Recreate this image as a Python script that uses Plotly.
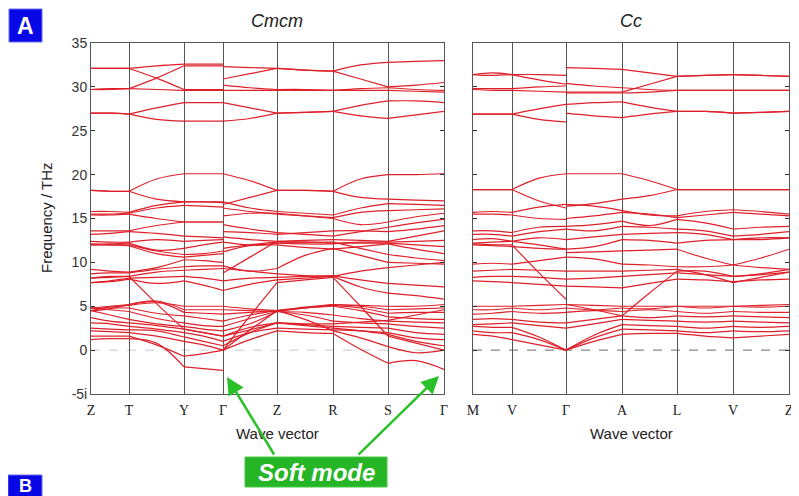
import plotly.graph_objects as go

# ---------------- data ----------------
cmcm_labels = ["Z", "T", "Y", "Γ", "Z", "R", "S", "Γ"]
cmcm_seglen = [38, 55, 39, 54, 56, 55, 56]
cc_labels = ["M", "V", "Γ", "A", "L", "V", "Z"]
cc_seglen = [39, 54, 56, 55, 56, 56]
ytick_vals = [-5, 0, 5, 10, 15, 20, 25, 30, 35]
ytick_text = ["-5i", "0", "5", "10", "15", "20", "25", "30", "35"]

# Cmcm bands (THz, negative = imaginary):
# [Z, mid, T, mid, Y, mid, Γ(end) | Γ(start), mid, Z, mid, R, mid, S, mid, Γ]
cmcm_bands = [
    [32.1, 32.1, 32.1, 32.4, 32.6, 32.6, 32.6, 32.3, 32.2, 32.1, 31.9, 31.8, 32.5, 32.8, 32.9, 33.0],
    [32.1, 32.1, 32.1, 31.0, 29.7, 29.7, 29.7, 30.9, 31.5, 32.1, 31.9, 31.8, 30.9, 30.0, 30.2, 30.5],
    [29.7, 29.8, 29.8, 31.0, 32.4, 32.4, 32.4, 30.2, 29.9, 29.7, 29.7, 29.6, 29.8, 29.9, 29.7, 29.6],
    [29.7, 29.7, 29.8, 29.7, 29.6, 29.6, 29.6, 29.6, 29.6, 29.6, 29.6, 29.6, 29.6, 29.6, 29.5, 29.4],
    [27.0, 27.0, 26.9, 27.6, 28.2, 28.2, 28.2, 28.2, 27.6, 27.0, 27.1, 27.2, 27.9, 28.4, 28.4, 28.2],
    [27.0, 27.0, 26.9, 26.3, 26.1, 26.1, 26.1, 26.1, 26.4, 27.0, 27.1, 27.2, 26.7, 26.4, 26.8, 27.2],
    [18.2, 18.1, 18.1, 19.5, 20.1, 20.1, 20.1, 20.1, 19.3, 18.2, 18.2, 18.1, 19.5, 20.0, 20.0, 20.1],
    [18.2, 18.1, 18.1, 17.2, 16.9, 16.9, 16.9, 16.6, 17.4, 18.2, 18.2, 18.1, 17.4, 17.2, 17.1, 17.0],
    [15.8, 15.8, 15.7, 16.5, 16.9, 16.9, 16.8, 16.9, 16.2, 15.8, 15.6, 15.4, 16.2, 16.7, 16.6, 16.5],
    [15.5, 15.5, 15.6, 16.2, 16.5, 16.4, 16.3, 16.2, 15.8, 15.5, 15.3, 15.1, 15.7, 15.9, 16.0, 16.1],
    [15.4, 15.4, 15.5, 15.0, 14.6, 14.6, 14.6, 15.3, 15.6, 15.6, 15.3, 15.0, 14.3, 14.6, 15.2, 15.6],
    [13.6, 13.6, 13.6, 14.2, 14.6, 14.6, 14.6, 14.3, 13.8, 13.4, 13.2, 13.0, 13.5, 14.0, 14.5, 14.9],
    [13.2, 13.3, 13.5, 13.3, 13.0, 12.9, 12.8, 13.5, 13.4, 13.2, 13.4, 13.6, 13.6, 13.5, 13.8, 14.2],
    [12.4, 12.3, 12.3, 12.6, 12.4, 12.5, 12.6, 12.9, 12.6, 12.4, 12.5, 12.6, 12.5, 12.4, 13.0, 13.6],
    [12.1, 12.1, 12.2, 11.4, 11.6, 12.0, 12.3, 12.3, 12.0, 12.2, 12.1, 12.1, 12.3, 12.3, 12.4, 12.5],
    [12.0, 12.0, 12.0, 11.3, 10.9, 11.0, 11.3, 11.6, 12.0, 12.3, 12.3, 12.2, 12.2, 12.2, 12.0, 11.8],
    [12.0, 12.0, 11.9, 11.0, 10.6, 10.8, 11.0, 11.2, 11.9, 12.0, 11.7, 11.5, 11.8, 12.1, 11.5, 11.0],
    [9.2, 9.0, 8.9, 9.4, 10.3, 10.2, 10.0, 8.8, 10.6, 12.4, 12.3, 12.3, 11.6, 10.9, 10.5, 10.2],
    [8.7, 8.8, 8.8, 9.2, 9.5, 9.6, 9.6, 9.6, 9.0, 9.3, 10.8, 11.6, 10.8, 10.0, 9.9, 9.8],
    [8.2, 8.4, 8.4, 8.9, 9.1, 9.2, 9.3, 9.3, 9.0, 8.7, 8.5, 8.4, 9.0, 9.4, 9.7, 10.0],
    [7.7, 7.9, 8.2, 8.3, 8.4, 8.2, 7.9, 7.9, 8.2, 8.3, 8.4, 8.5, 8.0, 7.6, 7.4, 7.2],
    [7.7, 7.8, 8.1, 7.6, 7.9, 7.4, 6.8, 6.8, 7.5, 8.0, 8.2, 8.4, 7.2, 6.5, 6.2, 5.8],
    [1.2, 1.3, 1.3, 0.8, -1.9, -2.1, -2.3, 0.0, 1.2, 2.2, 2.0, 1.9, 0.1, -1.5, -1.2, -2.2],
    [1.6, 1.6, 1.6, 0.6, -0.7, -0.4, 0.0, 0.0, 3.9, 7.7, 8.0, 8.3, 5.0, 1.6, 0.8, 0.0],
    [2.2, 2.1, 2.0, 1.6, 1.0, 0.6, 0.0, 0.0, 2.3, 4.5, 3.5, 2.2, 1.4, 0.4, -0.3, 0.0],
    [2.5, 2.4, 2.3, 2.2, 1.5, 1.0, 0.5, 0.5, 2.0, 3.1, 2.8, 2.5, 2.2, 1.8, 1.0, 0.5],
    [3.1, 3.0, 2.7, 2.4, 2.0, 1.6, 1.0, 1.0, 2.0, 2.5, 2.4, 2.3, 2.2, 2.0, 1.4, 1.2],
    [3.7, 3.3, 3.1, 2.8, 2.4, 2.0, 1.6, 1.6, 2.3, 3.1, 2.9, 2.7, 2.6, 2.5, 2.0, 1.8],
    [4.5, 4.0, 3.5, 3.0, 2.7, 2.4, 2.2, 2.2, 3.0, 4.4, 4.0, 3.3, 3.1, 3.0, 2.7, 2.5],
    [4.8, 4.6, 4.4, 3.6, 3.1, 2.8, 2.7, 2.7, 3.6, 4.4, 4.3, 4.0, 3.6, 3.3, 3.2, 3.1],
    [4.8, 4.8, 4.8, 4.2, 3.9, 3.6, 3.3, 3.3, 4.0, 4.5, 4.8, 5.0, 4.5, 3.8, 3.6, 3.5],
    [4.5, 4.7, 5.2, 5.5, 4.3, 4.2, 4.1, 4.1, 4.3, 4.5, 4.8, 5.1, 4.8, 4.2, 4.3, 4.3],
    [4.8, 5.0, 5.2, 5.6, 4.6, 4.6, 4.6, 4.6, 4.5, 4.4, 4.8, 5.2, 5.0, 4.6, 4.7, 4.8],
    [4.5, 4.9, 5.1, 5.4, 5.0, 5.0, 5.0, 5.0, 4.7, 4.5, 4.9, 5.2, 5.1, 5.0, 5.0, 5.2],
    [8.2, 8.3, 8.4, 5.3, 2.4, 2.0, 1.6, 1.6, 2.6, 3.1, 3.0, 3.0, 3.2, 3.4, 4.0, 4.6],
]

# Cc bands: [M, mid, V, mid, Γ(end) | Γ(start), mid, A, mid, L, mid, V, mid, Z]
cc_bands = [
    [31.4, 31.6, 31.4, 31.4, 31.3, 32.2, 32.1, 32.0, 31.6, 31.2, 31.3, 31.4, 31.3, 31.2],
    [31.4, 31.3, 31.4, 30.8, 30.3, 30.4, 30.1, 29.9, 29.7, 29.6, 29.6, 29.6, 29.6, 29.6],
    [29.8, 29.8, 29.8, 30.0, 30.1, 29.4, 29.4, 29.4, 30.3, 31.2, 31.3, 31.4, 31.3, 31.2],
    [29.7, 29.6, 29.6, 29.5, 29.4, 29.3, 29.3, 29.3, 29.4, 29.6, 29.6, 29.6, 29.6, 29.6],
    [26.9, 26.9, 26.9, 27.5, 28.0, 28.0, 28.2, 28.3, 27.7, 27.2, 27.2, 27.0, 27.1, 27.2],
    [26.9, 26.9, 26.9, 26.3, 26.0, 27.0, 26.7, 26.5, 26.9, 27.2, 27.2, 27.0, 27.1, 27.2],
    [18.3, 18.3, 18.3, 19.6, 20.1, 20.1, 20.1, 20.1, 19.3, 18.3, 18.3, 18.3, 18.3, 18.3],
    [18.3, 18.3, 18.3, 17.0, 16.2, 16.4, 16.7, 17.2, 17.6, 18.3, 18.3, 18.3, 18.3, 18.3],
    [15.7, 15.8, 15.7, 16.3, 16.6, 16.6, 16.4, 15.9, 15.4, 15.3, 15.8, 16.0, 15.8, 15.5],
    [15.5, 15.5, 15.4, 15.0, 14.9, 15.0, 15.3, 15.7, 15.5, 15.1, 15.4, 15.7, 15.5, 15.3],
    [13.6, 13.6, 13.4, 14.0, 14.1, 14.1, 14.3, 14.7, 14.2, 14.9, 14.5, 13.8, 14.0, 14.1],
    [13.2, 13.2, 13.0, 13.5, 13.8, 13.8, 13.6, 14.1, 14.0, 13.8, 13.6, 13.0, 13.2, 13.5],
    [12.6, 12.7, 12.4, 12.8, 12.6, 12.6, 12.9, 13.2, 13.3, 13.4, 13.2, 12.6, 12.8, 12.8],
    [12.2, 12.3, 12.4, 12.0, 11.5, 11.5, 11.8, 12.6, 12.5, 12.2, 12.5, 12.6, 12.6, 12.8],
    [12.1, 12.0, 12.0, 8.8, 5.8, 5.2, 4.6, 3.9, 6.5, 9.0, 9.0, 8.4, 8.7, 9.2],
    [12.0, 11.9, 11.8, 11.6, 11.5, 11.1, 11.2, 11.3, 11.4, 11.5, 10.5, 9.7, 10.5, 11.5],
    [9.8, 9.9, 9.8, 10.2, 10.6, 10.6, 10.4, 9.8, 9.7, 9.5, 9.5, 9.7, 9.4, 9.2],
    [9.0, 9.1, 9.2, 9.1, 9.0, 9.0, 9.0, 9.0, 9.1, 9.2, 8.6, 7.7, 8.3, 8.9],
    [8.3, 8.4, 8.4, 8.3, 8.1, 8.1, 8.2, 8.4, 8.6, 8.8, 8.6, 8.4, 8.6, 8.9],
    [7.9, 7.8, 7.7, 7.5, 7.3, 7.3, 7.2, 7.1, 7.6, 8.1, 8.0, 7.8, 8.0, 8.1],
    [1.8, 1.6, 1.2, 0.6, 0.0, 0.0, 1.0, 1.8, 1.9, 1.9, 1.6, 1.4, 1.6, 1.8],
    [2.2, 2.0, 2.0, 1.2, 0.0, 0.0, 1.4, 2.4, 2.3, 2.2, 2.0, 2.2, 2.1, 2.2],
    [2.7, 2.6, 2.6, 1.5, 0.0, 0.0, 1.7, 2.9, 2.8, 2.7, 2.5, 2.7, 2.6, 2.7],
    [2.9, 3.0, 3.1, 2.8, 2.5, 2.5, 3.0, 3.5, 3.4, 3.3, 3.2, 3.3, 3.2, 3.1],
    [3.5, 3.6, 3.5, 3.2, 3.1, 3.1, 3.5, 3.9, 3.7, 3.9, 3.8, 3.9, 3.8, 3.7],
    [4.1, 4.2, 4.4, 4.2, 4.3, 4.3, 4.5, 4.4, 4.6, 4.4, 4.2, 4.4, 4.3, 4.3],
    [4.6, 4.6, 4.8, 4.6, 4.8, 4.8, 4.6, 4.8, 4.7, 5.0, 4.8, 5.0, 4.9, 5.0],
    [5.0, 5.0, 5.0, 5.1, 5.2, 5.2, 5.1, 5.0, 5.0, 5.0, 5.0, 5.0, 5.1, 5.2],
]

# ---------------- helpers ----------------
OFF = 8                      # page body margin of the browser
W, H = 799 - OFF, 496 - OFF  # figure size so that it fits the window
RED = "rgb(222,32,42)"
GREEN = "#25b525"
BLUE = "#0808e6"


def kpos(seglen):
    out = [0]
    for s in seglen:
        out.append(out[-1] + s)
    return out


def band_xy(bands, seglen, brk_seg):
    K = kpos(seglen)
    xs, ys = [], []
    for b in bands:
        idx = 0
        for s in range(len(seglen)):
            if s == brk_seg:
                idx += 1
            sx = [K[s], (K[s] + K[s + 1]) / 2, K[s + 1]]
            sy = [b[idx], b[idx + 1], b[idx + 2]]
            xs += sx + [None]
            ys += sy + [None]
            idx += 2
    return xs, ys, K


def px(x):
    return (x - OFF) / W


def py(y):
    return 1 - (y - OFF) / H


fig = go.Figure()

x1, y1, K1 = band_xy(cmcm_bands, cmcm_seglen, 3)
x2, y2, K2 = band_xy(cc_bands, cc_seglen, 2)

fig.add_trace(go.Scatter(x=x1, y=y1, mode="lines", xaxis="x", yaxis="y",
                         line=dict(color=RED, width=1.2, shape="spline", smoothing=1.0),
                         connectgaps=False, hoverinfo="skip", showlegend=False))
fig.add_trace(go.Scatter(x=x2, y=y2, mode="lines", xaxis="x2", yaxis="y2",
                         line=dict(color=RED, width=1.2, shape="spline", smoothing=1.0),
                         connectgaps=False, hoverinfo="skip", showlegend=False))

ydom = [py(394), py(43)]
common_x = dict(showgrid=True, gridcolor="#555", gridwidth=1, zeroline=False,
                showline=True, linecolor="#555", linewidth=1, mirror=True, ticks="",
                automargin=False,
                tickfont=dict(family="Liberation Serif", size=14, color="#222"),
                ticklabelstandoff=3)
common_y = dict(range=[-5, 35], tickvals=ytick_vals, ticktext=ytick_text, showgrid=False,
                zeroline=False, showline=True, linecolor="#555", linewidth=1,
                mirror="ticks", ticks="inside", ticklen=4, tickcolor="#333",
                automargin=False,
                tickfont=dict(family="Liberation Sans", size=14, color="#333"))

fig.update_layout(
    width=W, height=H, margin=dict(l=0, r=0, t=0, b=0, autoexpand=False),
    paper_bgcolor="white", plot_bgcolor="white",
    xaxis=dict(domain=[px(91), px(444)], range=[0, K1[-1]], tickvals=K1,
               ticktext=cmcm_labels, anchor="y", **common_x),
    yaxis=dict(domain=ydom, anchor="x", showticklabels=True, **common_y),
    xaxis2=dict(domain=[px(473), px(789)], range=[0, K2[-1]], tickvals=K2,
                ticktext=cc_labels, anchor="y2", **common_x),
    yaxis2=dict(domain=ydom, anchor="x2", showticklabels=False, **common_y),
)

shapes = [
    dict(type="line", xref="x domain", yref="y", x0=0, x1=1, y0=0, y1=0,
         line=dict(color="#c8c8c8", width=1, dash="dash"), layer="below"),
    dict(type="line", xref="x2 domain", yref="y2", x0=0, x1=1, y0=0, y1=0,
         line=dict(color="#888", width=1.2, dash="dash"), layer="below"),
    dict(type="rect", xref="paper", yref="paper", x0=px(9), x1=px(42), y0=py(42), y1=py(9),
         fillcolor=BLUE, line=dict(color="#6a6af0", width=1)),
    dict(type="rect", xref="paper", yref="paper", x0=px(8), x1=px(42), y0=py(500), y1=py(475),
         fillcolor=BLUE, line=dict(color="#6a6af0", width=1)),
    dict(type="rect", xref="paper", yref="paper", x0=px(245), x1=px(387), y0=py(487), y1=py(457),
         fillcolor=GREEN, line=dict(color="#48c848", width=1)),
]
fig.update_layout(shapes=shapes)

ann = [
    dict(text="<i>Cmcm</i>", x=px(277), y=py(21), font=dict(family="Liberation Sans", size=18, color="#222")),
    dict(text="<i>Cc</i>", x=px(631), y=py(21), font=dict(family="Liberation Sans", size=18, color="#222")),
    dict(text="Wave vector", x=px(277), y=py(433), font=dict(family="Liberation Sans", size=15, color="#222")),
    dict(text="Wave vector", x=px(631), y=py(433), font=dict(family="Liberation Sans", size=15, color="#222")),
    dict(text="Frequency / THz", x=px(46), y=py(218), textangle=-90,
         font=dict(family="Liberation Sans", size=15, color="#222")),
    dict(text="<b>A</b>", x=px(25.5), y=py(26), font=dict(family="Liberation Sans", size=23, color="white")),
    dict(text="<b>B</b>", x=px(25), y=py(486), font=dict(family="Liberation Sans", size=18, color="white")),
    dict(text="<b><i>Soft mode</i></b>", x=px(316), y=py(472),
         font=dict(family="Liberation Sans", size=24, color="white")),
]
annotations = []
for a in ann:
    a.update(xref="paper", yref="paper", showarrow=False, xanchor="center", yanchor="middle")
    annotations.append(a)

for tip, tail in [((227, 377), (275, 456)), ((439, 376), (357, 456))]:
    annotations.append(dict(xref="paper", yref="paper", x=px(tip[0]), y=py(tip[1]), text="",
                            showarrow=True, arrowhead=2, arrowsize=1.4, arrowwidth=2.5,
                            arrowcolor="#2ac02a", ax=tail[0] - tip[0], ay=tail[1] - tip[1]))
fig.update_layout(annotations=annotations)

fig.write_html("out.html")
